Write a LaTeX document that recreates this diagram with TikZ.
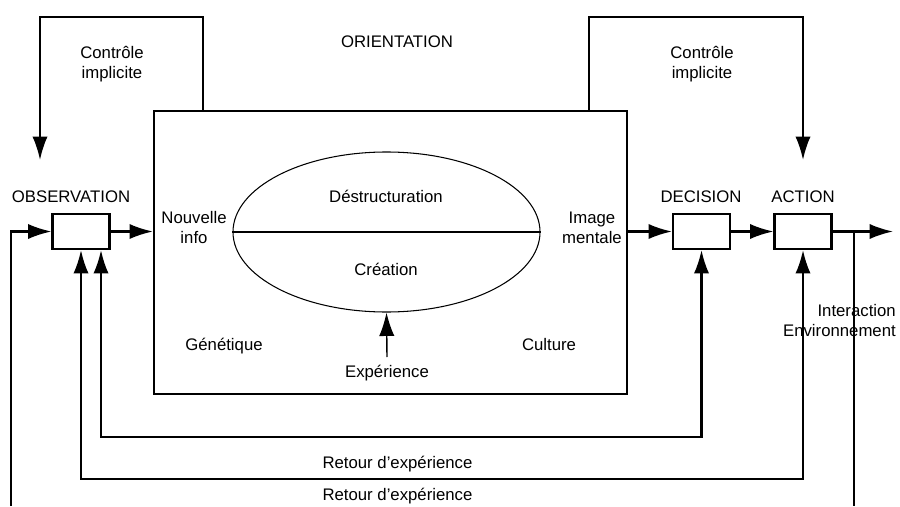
\documentclass[tikz,border=0pt]{standalone}
\usepackage{fontspec}
\setmainfont{Liberation Sans}
\usetikzlibrary{arrows.meta,positioning,calc,shapes.geometric}

\tikzset{
  txt/.style={font=\fontsize{14.3}{17}\selectfont, inner sep=0pt, anchor=base},
  bloc/.style={draw, line width=1.8pt, minimum width=1.71cm, minimum height=1.05cm, inner sep=0pt},
  lien/.style={line width=1.8pt, -{Latex[length=20pt,width=13pt]}},
  boucle/.style={line width=1.8pt, {Latex[length=20pt,width=13pt]}-{Latex[length=20pt,width=13pt]}},
}

\begin{document}
\begin{tikzpicture}[x=0.03cm,y=-0.03cm]
\useasboundingbox (0,0) rectangle (900,506);
% orientation
\node[draw, line width=1.8pt, minimum width=14.19cm, minimum height=8.49cm] (orient) at (390.5,252.5) {};
\node[txt] (orienttitre) at (397,48) {ORIENTATION};
\node[draw, ellipse, line width=0.9pt, minimum width=9.21cm, minimum height=4.8cm, inner sep=0pt] (bulle) at (386.5,232) {};
\draw[line width=0.9pt] (bulle.west) -- (bulle.east);
\node[txt] (destr) at (386,202) {Déstructuration};
\node[txt] (creation) at (386,275) {Création};
\node[txt] (experience) at (387,377) {Expérience};
\draw[line width=1.2pt, -{Latex[length=20pt,width=13pt]}] (387,357) -- (bulle.south);
\node[txt] (genetique) at (224,350) {Génétique};
\node[txt] (culture) at (549,350) {Culture};
\node[txt, align=center] (nouvelle) at (194,243) {Nouvelle\\info};
\node[txt, align=center] (image) at (592,243) {Image\\mentale};

% boucle OODA
\node[bloc] (obs) at (81,231.5) {};
\node[txt] (obslbl) at (71,202) {OBSERVATION};
\node[bloc] (dec) at (701.5,231.5) {};
\node[txt] (declbl) at (701,202) {DECISION};
\node[bloc] (act) at (803,231.5) {};
\node[txt] (actlbl) at (803,202) {ACTION};

\coordinate (entree) at (11,506);
\coordinate (sortie) at (893,231.5);
\coordinate (envbas) at (854,506);
\draw[lien] (entree) |- (obs.west);
\draw[lien] (obs.east) -- (obs.east -| orient.west);
\draw[lien] (dec.west -| orient.east) -- (dec.west);
\draw[lien] (dec.east) -- (act.west);
\draw[lien] (act.east) -- (sortie);
\draw[line width=1.8pt] (act.east -| envbas) -- (envbas);
\node[txt, align=right, anchor=base east] (inter) at (896,336) {Interaction\\Environnement};

% controle implicite
\coordinate (hautg) at (203,17);
\coordinate (hautd) at (589,17);
\coordinate (obshaut) at (40,160);
\coordinate (acthaut) at (803,160);
\draw[lien] (hautg |- orient.north) -- (hautg) -| (obshaut);
\draw[lien] (hautd |- orient.north) -- (hautd) -| (acthaut);
\node[txt, align=center] (ctrlg) at (112,78) {Contrôle\\implicite};
\node[txt, align=center] (ctrld) at (702,78) {Contrôle\\implicite};

% retours d'experience
\draw[boucle] ([xshift=0.6cm]obs.south) -- ++(0,187) -| (dec.south);
\draw[boucle] (obs.south) -- ++(0,229) -| (act.south);
\node[txt] (retour1) at (397.5,468) {Retour d’expérience};
\node[txt] (retour2) at (397.5,500) {Retour d’expérience};
\end{tikzpicture}
\end{document}
